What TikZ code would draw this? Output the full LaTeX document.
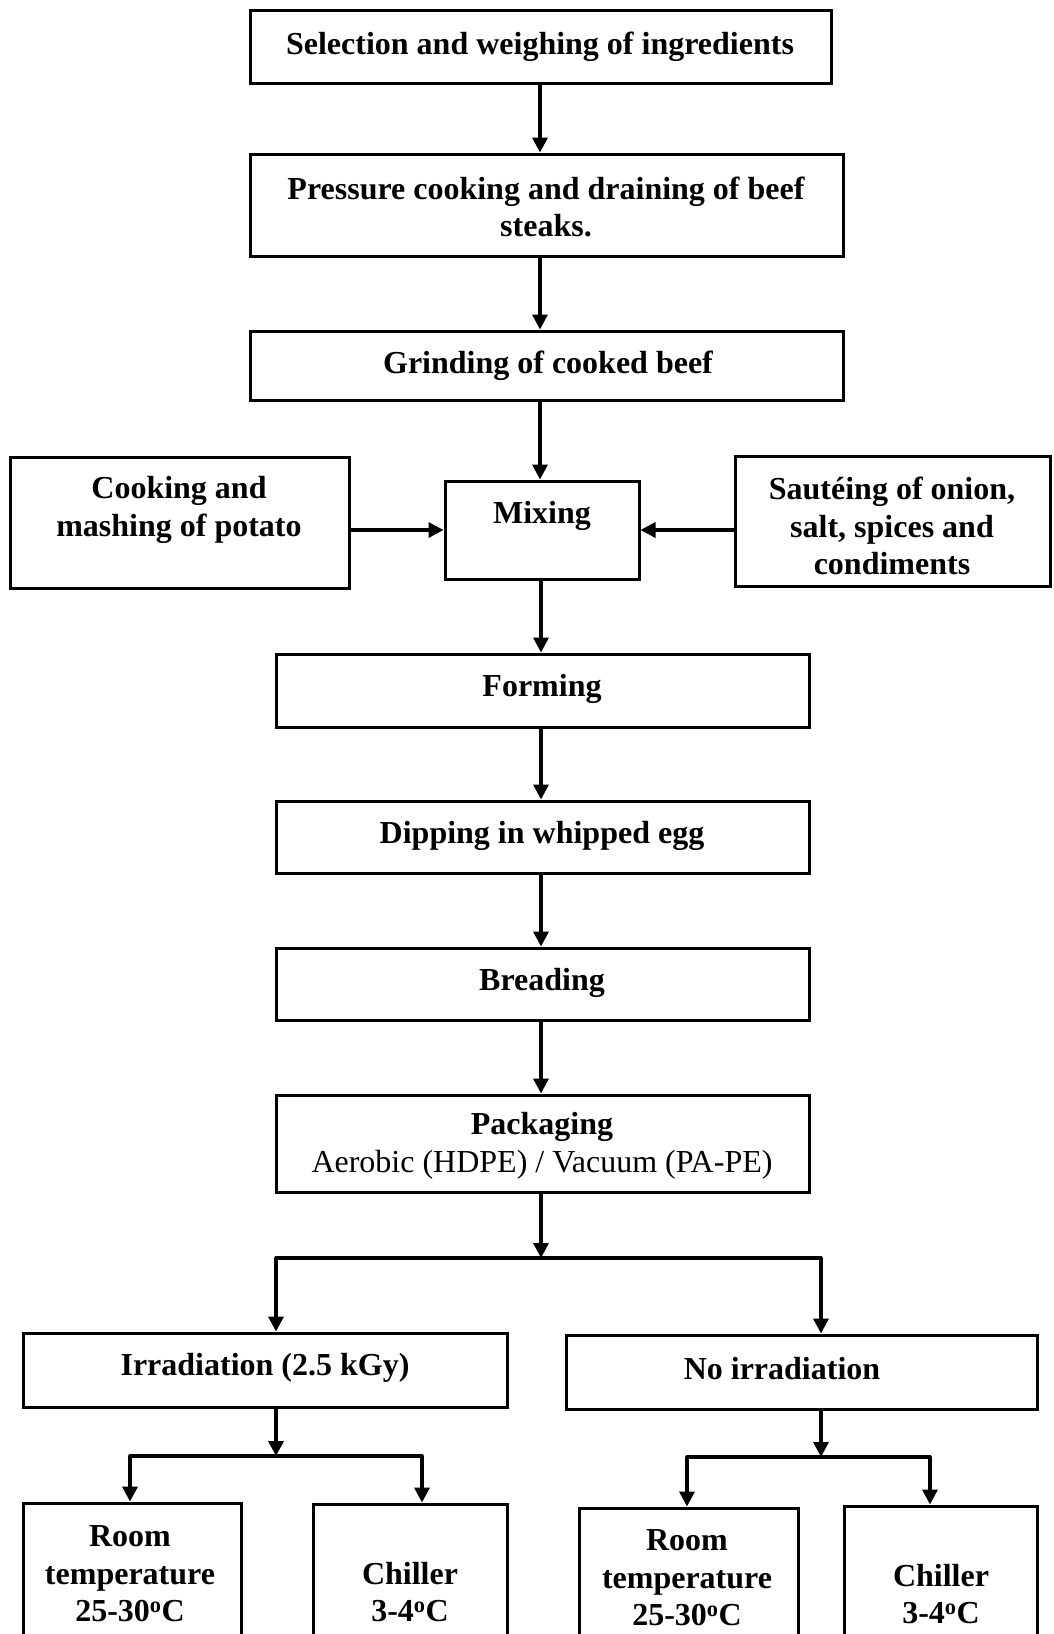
\documentclass[tikz,border=0pt]{standalone}
\usepackage{fontspec}
\setmainfont{Liberation Serif}
\usetikzlibrary{arrows.meta}
\begin{document}
\begin{tikzpicture}[x=1pt,y=-1pt,
 box/.style={draw, line width=3pt, rectangle, inner sep=0pt},
 txt/.style={font=\fontsize{32}{37.5}\selectfont\bfseries, align=center, inner sep=0pt},
 arr/.style={line width=3.4pt, -{Triangle[length=15pt,width=15pt]}},
 ln/.style={line width=3.6pt, line cap=round}]
\useasboundingbox (0,0) rectangle (1054,1634);
\clip (0,0) rectangle (1054,1634);
\fill[white] (0,0) rectangle (1054,1634);

% boxes
\node[box, minimum width=581pt, minimum height=73pt] (b1) at (540.5,46.5) {};
\node[box, minimum width=593pt, minimum height=102pt] (b2) at (546.5,205) {};
\node[box, minimum width=593pt, minimum height=69pt] (b3) at (546.5,365.5) {};
\node[box, minimum width=339pt, minimum height=131pt] (cook) at (179.5,522.5) {};
\node[box, minimum width=194pt, minimum height=98pt] (mix) at (542,530) {};
\node[box, minimum width=315pt, minimum height=130pt] (saute) at (892.5,521) {};
\node[box, minimum width=533pt, minimum height=73pt] (form) at (542.5,690.5) {};
\node[box, minimum width=533pt, minimum height=72pt] (dip) at (542.5,837) {};
\node[box, minimum width=533pt, minimum height=72pt] (bread) at (542.5,984) {};
\node[box, minimum width=533pt, minimum height=97pt] (pack) at (542.5,1143.5) {};
\node[box, minimum width=484pt, minimum height=74pt] (irr) at (265,1370) {};
\node[box, minimum width=471pt, minimum height=74pt] (noirr) at (801.5,1372) {};
\node[box, minimum width=218pt, minimum height=200pt] (roomL) at (132,1603) {};
\node[box, minimum width=194pt, minimum height=200pt] (chillL) at (410,1604) {};
\node[box, minimum width=219pt, minimum height=200pt] (roomR) at (688.5,1608) {};
\node[box, minimum width=193pt, minimum height=200pt] (chillR) at (940.5,1606) {};

% texts
\node[txt] (t1) at (540,47) {Selection and weighing of ingredients};
\node[txt] (t2) at (546,207) {Pressure cooking and draining of beef\\steaks.};
\node[txt] (t3) at (548,366) {Grinding of cooked beef};
\node[txt] (tcook) at (179,510) {Cooking and\\mashing of potato};
\node[txt] (tmix) at (542,516) {Mixing};
\node[txt] (tsaute) at (892,526) {Sautéing of onion,\\salt, spices and\\condiments};
\node[txt] (tform) at (542,689) {Forming};
\node[txt] (tdip) at (542,836) {Dipping in whipped egg};
\node[txt] (tbread) at (542,983) {Breading};
\node[txt] (tpack) at (542,1146) {Packaging\\\mdseries Aerobic (HDPE) / Vacuum (PA-PE)};
\node[txt] (tirr) at (265,1368) {Irradiation (2.5 kGy)};
\node[txt] (tnoirr) at (782,1369) {No irradiation};
\node[txt] (troomL) at (130,1574) {Room\\temperature\\25-30\textsuperscript{o}C};
\node[txt] (tchillL) at (410,1592) {Chiller\\3-4\textsuperscript{o}C};
\node[txt] (troomR) at (687,1578) {Room\\temperature\\25-30\textsuperscript{o}C};
\node[txt] (tchillR) at (941,1594) {Chiller\\3-4\textsuperscript{o}C};

% coordinates
\coordinate (c1) at (541,1258);
\coordinate (cL) at (276,1258);
\coordinate (cR) at (821,1258);
\coordinate (dL) at (276,1456);
\coordinate (dL1) at (130,1456);
\coordinate (dL2) at (422,1456);
\coordinate (dR) at (821,1457);
\coordinate (dR1) at (687,1457);
\coordinate (dR2) at (930,1457);

% connectors
\draw[arr] (b1.south -| 540,0) -- (540,0 |- b2.north);
\draw[arr] (b2.south -| 540,0) -- (540,0 |- b3.north);
\draw[arr] (b3.south -| 540,0) -- (540,0 |- mix.north);
\draw[arr] (cook.east |- mix.west) -- (mix.west);
\draw[arr] (saute.west |- mix.east) -- (mix.east);
\draw[arr] (mix.south -| 541,0) -- (541,0 |- form.north);
\draw[arr] (form.south -| 541,0) -- (541,0 |- dip.north);
\draw[arr] (dip.south -| 541,0) -- (541,0 |- bread.north);
\draw[arr] (bread.south -| 541,0) -- (541,0 |- pack.north);
\draw[arr] (pack.south -| c1) -- (c1);
\draw[ln] (cL) -- (cR);
\draw[arr] (cL) -- (cL |- irr.north);
\draw[arr] (cR) -- (cR |- noirr.north);
\draw[arr] (irr.south -| dL) -- (dL);
\draw[ln] (dL1) -- (dL2);
\draw[arr] (dL1) -- (dL1 |- roomL.north);
\draw[arr] (dL2) -- (dL2 |- chillL.north);
\draw[arr] (noirr.south -| dR) -- (dR);
\draw[ln] (dR1) -- (dR2);
\draw[arr] (dR1) -- (dR1 |- roomR.north);
\draw[arr] (dR2) -- (dR2 |- chillR.north);
\end{tikzpicture}
\end{document}
